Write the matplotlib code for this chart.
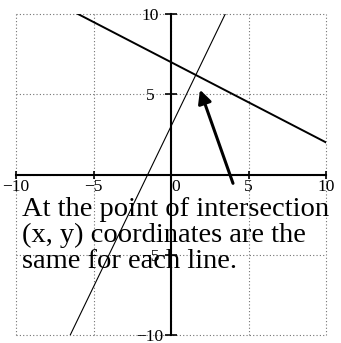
import matplotlib as mpl
mpl.use('Agg')
import matplotlib.pyplot as plt

# two lines: y = -0.5x + 7 and y = 2x + 3
line1_x = [-10, 10]
line1_y = [12, 2]
line2_x = [-6.5, 3.5]
line2_y = [-10, 10]

ticks = [-10, -5, 0, 5, 10]
xtick_labels = ["\u221210", "\u22125", "0", "5", "10"]
ytick_labels = ["\u221210", "\u22125", "", "5", "10"]

arrow_tail = (4.0, -0.55)
arrow_tip = (1.87, 5.28)

note = "At the point of intersection\n(x, y) coordinates are the\nsame for each line."

fig = plt.figure(figsize=(3.41, 3.43), dpi=100)
ax = fig.add_axes([16 / 341, 8 / 343, 310 / 341, 321 / 343])
ax.set_xlim(-10, 10)
ax.set_ylim(-10, 10)

ax.spines["left"].set_position(("data", 0))
ax.spines["bottom"].set_position(("data", 0))
ax.spines["right"].set_visible(False)
ax.spines["top"].set_visible(False)
for s in ("left", "bottom"):
    ax.spines[s].set_linewidth(1.5)

ax.set_xticks(ticks)
ax.set_yticks(ticks)
ax.set_xticklabels(xtick_labels, family="Liberation Serif", fontsize=12.5)
ax.set_yticklabels(ytick_labels, family="Liberation Serif", fontsize=12.5)
ax.tick_params(axis="x", direction="inout", length=6, width=1.2, pad=0)
ax.tick_params(axis="y", direction="inout", length=8.6, width=1.2, pad=10.8)
for lab in ax.get_yticklabels():
    lab.set_ha("center")
ax.get_xticklabels()[2].set_ha("left")

ax.grid(True, linestyle=(0, (1, 2)), color="0.45", linewidth=0.8)
for gl in ax.get_xgridlines() + ax.get_ygridlines():
    gl.set_clip_on(False)

ax.plot(line1_x, line1_y, color="black", lw=1.4)
ax.plot(line2_x, line2_y, color="black", lw=0.8)

ax.annotate("", xy=arrow_tip, xytext=arrow_tail,
            arrowprops=dict(arrowstyle="-|>", lw=2.2, color="black",
                            mutation_scale=20, shrinkA=0, shrinkB=0))

fig.text(22 / 341, 1 - 197 / 343, note, family="Liberation Serif",
         fontsize=20.5, va="top", ha="left", linespacing=1.04)

plt.savefig("out.png", dpi=100)
plt.close(fig)
